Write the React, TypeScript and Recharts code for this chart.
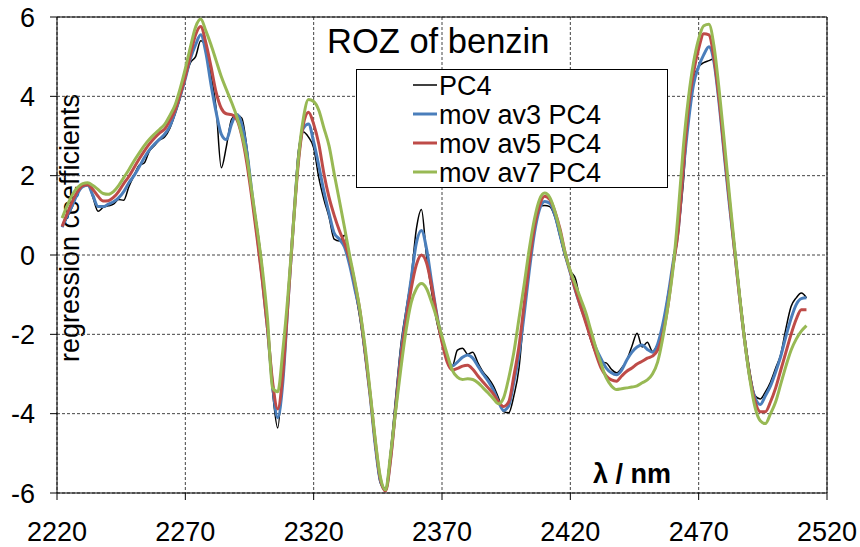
import { LineChart, Line, XAxis, YAxis, CartesianGrid, ReferenceLine } from "recharts";

// wavelength grid in nm
const wavelength = [
  2222, 2224, 2226, 2228, 2230, 2232, 2234, 2236, 2238, 2240,
  2242, 2244, 2246, 2248, 2250, 2252, 2254, 2256, 2258, 2260,
  2262, 2264, 2266, 2268, 2270, 2272, 2274, 2276, 2278, 2280,
  2282, 2284, 2286, 2288, 2290, 2292, 2294, 2296, 2298, 2300,
  2302, 2304, 2306, 2308, 2310, 2312, 2314, 2316, 2318, 2320,
  2322, 2324, 2326, 2328, 2330, 2332, 2334, 2336, 2338, 2340,
  2342, 2344, 2346, 2348, 2350, 2352, 2354, 2356, 2358, 2360,
  2362, 2364, 2366, 2368, 2370, 2372, 2374, 2376, 2378, 2380,
  2382, 2384, 2386, 2388, 2390, 2392, 2394, 2396, 2398, 2400,
  2402, 2404, 2406, 2408, 2410, 2412, 2414, 2416, 2418, 2420,
  2422, 2424, 2426, 2428, 2430, 2432, 2434, 2436, 2438, 2440,
  2442, 2444, 2446, 2448, 2450, 2452, 2454, 2456, 2458, 2460,
  2462, 2464, 2466, 2468, 2470, 2472, 2474, 2476, 2478, 2480,
  2482, 2484, 2486, 2488, 2490, 2492, 2494, 2496, 2498, 2500,
  2502, 2504, 2506, 2508, 2510, 2512,
];

const pc4 = [
  0.72, 0.95, 1.22, 1.55, 1.74, 1.78, 1.45, 1.1, 1.2, 1.24,
  1.28, 1.4, 1.38, 1.72, 2.0, 2.26, 2.32, 2.62, 2.76, 2.9,
  2.98, 3.2, 3.55, 3.95, 4.45, 4.85, 5.0, 5.4, 5.25, 4.55,
  3.7, 2.2, 2.74, 3.42, 3.53, 3.45, 2.7, 1.55, 0.7, -0.3,
  -1.85, -3.45, -4.36, -2.85, -1.0, 0.7, 2.6, 3.1, 2.97, 2.7,
  1.95, 1.4, 0.95, 0.4, 0.35, 0.5, -0.2, -0.85, -1.6, -2.55,
  -3.6, -4.85, -5.75, -5.88, -4.9, -3.55, -2.25, -1.38, -0.55, 0.65,
  1.15, -0.05, -0.95, -1.7, -2.2, -2.62, -2.8, -2.4, -2.35, -2.5,
  -2.45, -2.72, -2.95, -3.1, -3.3, -3.6, -3.95, -3.98, -3.55, -2.85,
  -1.45, -0.2, 0.75, 1.22, 1.25, 1.22, 0.95, 0.45, -0.05, -0.4,
  -0.6, -1.2, -1.7, -2.15, -2.5, -2.7, -2.72, -2.88, -2.97, -2.85,
  -2.65, -2.3, -1.97, -2.32, -2.2, -2.43, -2.25, -1.92, -1.0, -0.35,
  0.55, 1.8, 3.6, 4.45, 4.75, 4.85, 4.9, 4.95, 3.85, 2.5,
  1.3, 0.25, -0.95, -2.05, -2.95, -3.55, -3.63, -3.45, -3.2, -2.85,
  -2.5, -1.85, -1.3, -1.08, -0.96, -1.08,
];

const movAv3 = [
  0.7, 1.0, 1.25, 1.55, 1.72, 1.76, 1.5, 1.22, 1.22, 1.28,
  1.34, 1.44, 1.6, 1.82, 2.0, 2.22, 2.45, 2.65, 2.8, 2.92,
  3.05, 3.25, 3.6, 4.0, 4.45, 4.95, 5.3, 5.55, 5.1, 4.3,
  3.6, 3.05, 2.91, 3.3, 3.55, 3.3, 2.6, 1.55, 0.5, -0.6,
  -1.85, -3.3, -4.1, -3.2, -1.2, 0.7, 2.4, 3.2, 3.3, 2.85,
  2.25, 1.6, 1.05, 0.55, 0.4, 0.2, -0.25, -0.85, -1.45, -2.45,
  -3.55, -4.8, -5.7, -5.92, -5.1, -3.8, -2.45, -1.5, -0.6, 0.3,
  0.62, 0.15, -0.7, -1.5, -2.15, -2.6, -2.8, -2.7, -2.58, -2.52,
  -2.6, -2.8, -3.0, -3.18, -3.4, -3.7, -3.92, -3.8, -3.2, -2.5,
  -1.5, -0.4, 0.55, 1.15, 1.35, 1.3, 1.0, 0.5, 0.0, -0.45,
  -0.9, -1.3, -1.65, -2.0, -2.35, -2.62, -2.85, -2.97, -3.02, -2.9,
  -2.65, -2.45, -2.32, -2.27, -2.38, -2.45, -2.25, -1.75, -1.05, -0.2,
  0.6, 2.1, 3.35, 4.3, 4.75, 5.05, 5.25, 4.85, 3.8, 2.5,
  1.25, 0.1, -1.1, -2.2, -3.1, -3.6, -3.77, -3.55, -3.3, -2.95,
  -2.55, -2.05, -1.6, -1.25, -1.1, -1.08,
];

const movAv5 = [
  0.72, 1.05, 1.35, 1.6, 1.75, 1.77, 1.65, 1.48, 1.36, 1.37,
  1.45, 1.6, 1.8, 1.98, 2.2, 2.42, 2.62, 2.8, 2.95, 3.08,
  3.18, 3.4, 3.65, 4.05, 4.5, 5.05, 5.55, 5.76, 5.35, 4.75,
  4.1, 3.7, 3.56, 3.54, 3.42, 3.0, 2.3, 1.4, 0.4, -0.65,
  -1.85, -3.2, -3.88, -3.0, -1.2, 0.68, 2.3, 3.3, 3.6, 3.3,
  2.8, 2.05, 1.45, 1.0, 0.62, 0.3, -0.1, -0.7, -1.4, -2.4,
  -3.5, -4.7, -5.65, -5.95, -5.15, -3.85, -2.6, -1.65, -0.85, -0.25,
  0.0, -0.2, -0.8, -1.55, -2.2, -2.7, -2.9, -2.86, -2.8, -2.78,
  -2.88, -3.05, -3.2, -3.35, -3.5, -3.7, -3.82, -3.7, -3.05, -2.3,
  -1.25, -0.2, 0.7, 1.25, 1.48, 1.4, 1.1, 0.65, 0.05, -0.42,
  -0.88, -1.3, -1.7, -2.1, -2.5, -2.85, -3.05, -3.15, -3.18, -3.05,
  -2.93, -2.85, -2.75, -2.68, -2.6, -2.55, -2.4, -2.0, -1.3, -0.3,
  0.6, 2.2, 3.7, 4.6, 5.2, 5.58, 5.55, 4.95, 3.9, 2.6,
  1.35, 0.1, -1.1, -2.2, -3.1, -3.7, -3.95, -3.95, -3.7, -3.35,
  -2.9, -2.45, -2.0, -1.62, -1.38, -1.38,
];

const movAv7 = [
  0.93, 1.25, 1.52, 1.7, 1.8, 1.82, 1.75, 1.65, 1.55, 1.53,
  1.6, 1.75, 1.95, 2.15, 2.37, 2.57, 2.76, 2.92, 3.05, 3.17,
  3.3, 3.52, 3.78, 4.2, 4.7, 5.25, 5.75, 5.95, 5.65, 5.3,
  4.9, 4.5, 4.17, 3.85, 3.5, 3.05, 2.45, 1.55, 0.65, -0.35,
  -1.6, -3.35, -3.45, -2.4, -1.0, 0.68, 2.4, 3.45, 3.92, 3.87,
  3.65, 3.2, 2.75, 2.05, 1.38, 0.7, 0.0, -0.65, -1.38, -2.3,
  -3.45, -4.65, -5.6, -5.92, -5.0, -3.9, -2.85, -1.9, -1.2, -0.85,
  -0.72, -0.85, -1.2, -1.6, -2.05, -2.5, -2.9, -3.08, -3.14, -3.12,
  -3.14, -3.22, -3.35, -3.48, -3.62, -3.75, -3.6, -3.1, -2.45, -1.6,
  -0.75, 0.15, 0.9, 1.4, 1.56, 1.45, 1.1, 0.6, 0.05, -0.4,
  -0.75, -1.1, -1.45, -1.9, -2.35, -2.75, -3.1, -3.3, -3.39, -3.37,
  -3.35, -3.33, -3.3, -3.22, -3.15, -3.0, -2.7, -2.1, -1.3, -0.35,
  1.05, 2.7, 3.95, 4.85, 5.45, 5.78, 5.82, 5.25, 4.15, 2.85,
  1.5, 0.2, -1.05, -2.2, -3.15, -3.85, -4.18, -4.25, -4.0, -3.7,
  -3.25, -2.8, -2.4, -2.12, -1.92, -1.78,
];

const xTicks = [2220, 2270, 2320, 2370, 2420, 2470, 2520];
const yTicks = [-6, -4, -2, 0, 2, 4, 6];

const seriesInfo = [
  { key: "pc4", name: "PC4", color: "#000000", width: 1.5 },
  { key: "av3", name: "mov av3 PC4", color: "#4a7ebb", width: 3 },
  { key: "av5", name: "mov av5 PC4", color: "#be4b48", width: 3 },
  { key: "av7", name: "mov av7 PC4", color: "#98b954", width: 3 },
];

const rows = wavelength.map((w, i) => ({
  w,
  pc4: pc4[i],
  av3: movAv3[i],
  av5: movAv5[i],
  av7: movAv7[i],
}));

const font = "'Liberation Sans', Arial, sans-serif";
const tickStyle = { fontSize: 27, fill: "#000", fontFamily: font };

export default function App() {
  return (
    <div style={{ position: "absolute", left: 0, top: 0, width: 860, height: 547, background: "#fff", fontFamily: font }}>
      {/* y label sits under the curves */}
      <svg width={860} height={547} style={{ position: "absolute", left: 0, top: 0 }}>
        <text x={79} y={228} transform="rotate(-90 79 228)" textAnchor="middle" fontSize={27} fontFamily={font} fill="#000">
          regression coefficients
        </text>
      </svg>
      <div style={{ position: "absolute", left: 0, top: 0 }}>
        <LineChart width={860} height={547} data={rows} margin={{ top: 17, right: 33, bottom: 0, left: 0 }}>
          <CartesianGrid stroke="#444" strokeDasharray="3 2" strokeWidth={1} />
          <XAxis
            type="number"
            dataKey="w"
            domain={[2220, 2520]}
            ticks={xTicks}
            height={54}
            tickSize={7}
            tickMargin={22}
            tick={tickStyle}
            stroke="#000"
            axisLine={{ stroke: "#000", strokeWidth: 1 }}
            tickLine={{ stroke: "#000" }}
          />
          <YAxis
            type="number"
            domain={[-6, 6]}
            ticks={yTicks}
            width={57}
            tickSize={7}
            tickMargin={15}
            tick={tickStyle}
            stroke="#000"
            axisLine={{ stroke: "#000", strokeWidth: 1 }}
            tickLine={{ stroke: "#000" }}
          />
          <ReferenceLine y={6} stroke="#000" strokeWidth={1} />
          <ReferenceLine x={2520} stroke="#000" strokeWidth={1} />
          {seriesInfo.map((s) => (
            <Line
              key={s.key}
              type="monotone"
              dataKey={s.key}
              name={s.name}
              stroke={s.color}
              strokeWidth={s.width}
              dot={false}
              isAnimationActive={false}
            />
          ))}
        </LineChart>
      </div>
      <svg width={860} height={547} style={{ position: "absolute", left: 0, top: 0, pointerEvents: "none" }}>
        <text x={327} y={53} fontSize={34.5} fontFamily={font} fill="#000">
          ROZ of benzin
        </text>
        <text x={593} y={483} fontSize={27} fontWeight="bold" fontFamily={font} fill="#000">
          λ / nm
        </text>
        <rect x={356.5} y={69.5} width={311} height={118} fill="#fff" stroke="#000" strokeWidth={1} />
        {seriesInfo.map((s, i) => (
          <g key={s.key}>
            <line x1={413} x2={437} y1={85 + i * 29} y2={85 + i * 29} stroke={s.color} strokeWidth={s.width} />
            <text x={439} y={85 + i * 29 + 9.5} fontSize={27} fontFamily={font} fill="#000">
              {s.name}
            </text>
          </g>
        ))}
      </svg>
    </div>
  );
}
